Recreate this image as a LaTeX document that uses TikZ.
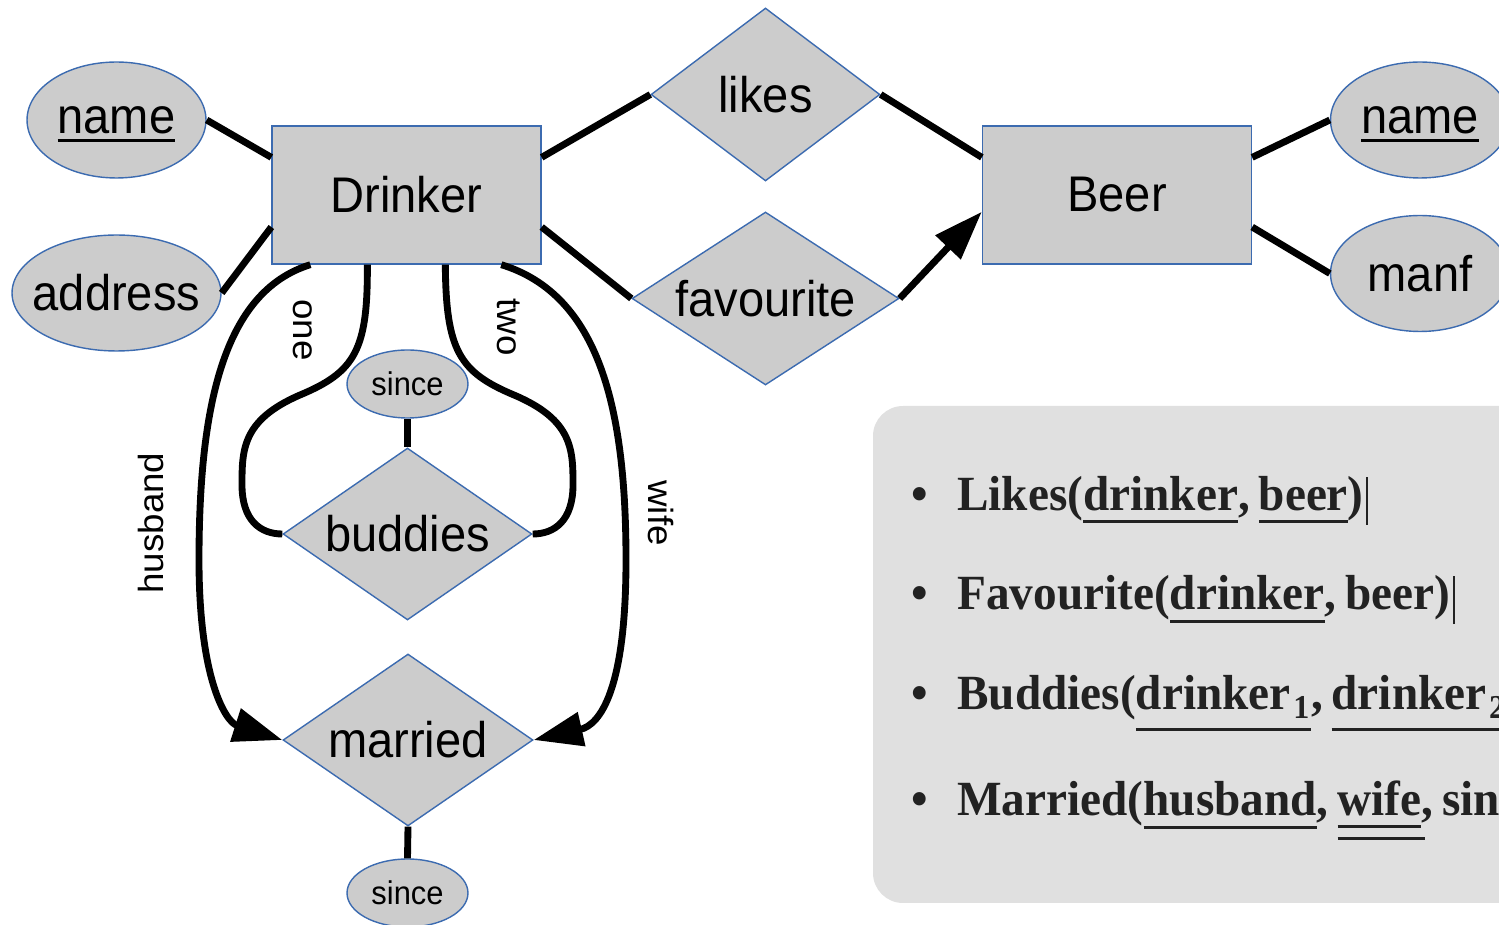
\documentclass[tikz,border=0pt]{standalone}
\usepackage{fontspec}
\setmainfont{Liberation Sans}[FakeStretch=0.94]
\newfontfamily\relfont{Liberation Serif}[FakeStretch=0.96]
\newfontfamily\rotfont{Liberation Sans}[FakeStretch=1.05]
\usetikzlibrary{shapes.geometric,arrows.meta,calc}
\definecolor{erfill}{HTML}{CCCCCC}
\definecolor{erline}{HTML}{3C6BB0}
\definecolor{boxfill}{HTML}{E0E0E0}
\definecolor{reltxt}{HTML}{222222}
\newcommand{\erzw}[1]{\makebox[0pt]{#1}}
\newcommand{\erkey}[1]{\setbox0\hbox{#1}\rlap{\smash{\rule[-4.8pt]{\wd0}{1.5pt}}}\box0}
\newcommand{\relul}[1]{\setbox0\hbox{#1}\rlap{\rule[\dimexpr-\dp0-7pt\relax]{\wd0}{1.7pt}}\box0}
\newcommand{\relulul}[1]{\setbox0\hbox{#1}\rlap{\rule[\dimexpr-\dp0-7pt\relax]{\wd0}{1.7pt}}\rlap{\rule[\dimexpr-\dp0-13.6pt\relax]{\dimexpr\wd0+2pt\relax}{1.7pt}}\box0}
\newcommand{\relsub}[1]{\hspace{1.5pt}\raisebox{-5pt}{\fontsize{19pt}{20pt}\selectfont #1}\hspace{1pt}}
\newcommand{\relcursor}{\hspace{1.6pt}\rule[-8.1pt]{0.9pt}{27.3pt}}
\begin{document}
\begin{tikzpicture}[x=0.02cm,y=-0.02cm,
  big/.style={font=\fontsize{28.5pt}{30pt}\selectfont},
  ent/.style={rectangle,draw=erline,fill=erfill,line width=0.8pt,inner sep=0pt,
    minimum width=5.38cm,minimum height=2.76cm,big},
  rel/.style={diamond,draw=erline,fill=erfill,line width=0.8pt,inner sep=0pt,big},
  attr/.style={ellipse,draw=erline,fill=erfill,line width=0.8pt,inner sep=0pt,
    minimum width=3.58cm,minimum height=2.32cm,big},
  sattr/.style={ellipse,draw=erline,fill=erfill,line width=0.8pt,inner sep=0pt,
    minimum width=2.42cm,minimum height=1.36cm,font=\fontsize{18.7pt}{20pt}\selectfont},
  conn/.style={line width=3.9pt},
  arr/.style={line width=3.9pt,-{Triangle[length=28pt,width=19pt]}},
  lbl/.style={font=\rotfont\fontsize{19.9pt}{21pt}\selectfont,inner sep=0pt,anchor=base},
  relrow/.style={font=\relfont\bfseries\fontsize{28pt}{30pt}\selectfont,text=reltxt,inner sep=0pt,anchor=base west},
  relbul/.style={font=\relfont\bfseries\fontsize{28pt}{30pt}\selectfont,text=reltxt,inner sep=0pt,anchor=base}
]
\useasboundingbox (0,0) rectangle (1499,925);
\clip (0,0) rectangle (1499,925);

% relations box
\fill[boxfill,rounded corners=0.6cm] (873,406) rectangle (1600,903);
\node[relbul] (b1) at (920,510.7) {\textbullet};
\node[relbul] (b2) at (920,610) {\textbullet};
\node[relbul] (b3) at (920,710) {\textbullet};
\node[relbul] (b4) at (920,815.7) {\textbullet};
\node[relrow] (r1) at (957,510.7) {Likes(\relul{drinker},\hspace{0.18em}\relul{beer})\relcursor};
\node[relrow] (r2) at (957,610) {Favourite(\relul{drinker},\hspace{0.18em}beer)\relcursor};
\node[relrow] (r3) at (957,710) {Buddies(\relul{drinker\relsub{1}},\hspace{0.18em}\relul{drinker\relsub{2}})};
\node[relrow] (r4) at (957,815.7) {Married(\relul{husband},\hspace{0.18em}\relulul{wife},\hspace{0.18em}since)};

% nodes
\node[attr] (nameL) at (116.5,120) {\erzw{\erkey{name}}};
\node[attr,minimum width=4.18cm] (address) at (116.5,293) {\erzw{address}};
\node[ent] (Drinker) at (406.5,195) {Drinker};
\node[rel,minimum width=4.58cm,minimum height=3.46cm] (likes) at (765.5,94.5) {\erzw{likes}};
\node[rel,minimum width=5.34cm,minimum height=3.46cm] (fav) at (765.5,298.5) {\erzw{favourite}};
\node[ent] (Beer) at (1117,195) {Beer};
\node[attr] (nameR) at (1420,120) {\erzw{\erkey{name}}};
\node[attr] (manf) at (1420,273.5) {\erzw{manf}};
\node[sattr] (since1) at (407.5,384) {\erzw{since}};
\node[rel,minimum width=4.98cm,minimum height=3.44cm] (buddies) at (407.5,534) {\erzw{buddies}};
\node[rel,minimum width=5.0cm,minimum height=3.44cm] (married) at (408,740) {\erzw{married}};
\node[sattr] (since2) at (407.5,893) {\erzw{since}};

% straight connectors
\draw[conn] (nameL.east) -- ($(Drinker.north west)!0.23!(Drinker.south west)$);
\draw[conn] (address.east) -- ($(Drinker.north west)!0.73!(Drinker.south west)$);
\draw[conn] ($(Drinker.north east)!0.23!(Drinker.south east)$) -- (likes.west);
\draw[conn] (likes.east) -- ($(Beer.north west)!0.23!(Beer.south west)$);
\draw[conn] ($(Drinker.north east)!0.73!(Drinker.south east)$) -- (fav.west);
\draw[arr] (fav.east) -- ($(Beer.north west)!0.62!(Beer.south west)$);
\draw[conn] ($(Beer.north east)!0.23!(Beer.south east)$) -- (nameR.west);
\draw[conn] ($(Beer.north east)!0.73!(Beer.south east)$) -- (manf.west);
\draw[conn] (since1.south) -- (buddies.north);
\draw[conn] (married.south) -- (since2.north);

% curved connectors
\draw[conn] ($(Drinker.south west)+(96,0)$) .. controls (368,350) and (355,372) .. (300,395)
  .. controls (242,420) and (242,450) .. (242,485) .. controls (242,520) and (260,534) .. (buddies.west);
\draw[conn] ($(Drinker.south west)+(174,0)$) .. controls (446,350) and (459,372) .. (514,395)
  .. controls (573,420) and (573,450) .. (573,485) .. controls (573,520) and (555,534) .. (buddies.east);
\draw[arr] ($(Drinker.south west)+(39,0)$) .. controls (222,292) and (199,410) .. (199,560)
  .. controls (199,680) and (226,722) .. (married.west);
\draw[arr] ($(Drinker.south west)+(230,0)$) .. controls (600,295) and (626,410) .. (626,560)
  .. controls (626,690) and (600,725) .. (married.east);

% role labels
\node[lbl,rotate=-90] (lone) at (293,330) {one};
\node[lbl,rotate=-90] (ltwo) at (497,327) {two};
\node[lbl,rotate=90] (lhusband) at (163,523) {husband};
\node[lbl,rotate=-90] (lwife) at (648,513) {wife};
\end{tikzpicture}
\end{document}
